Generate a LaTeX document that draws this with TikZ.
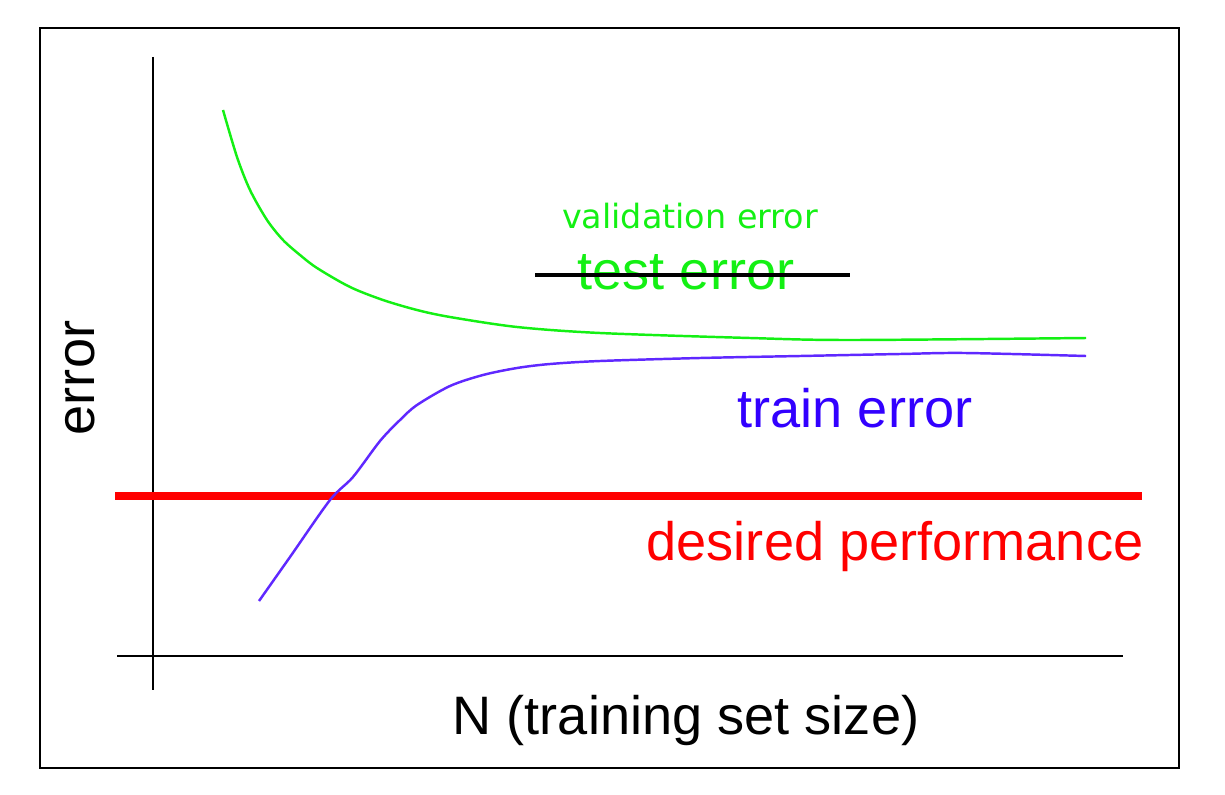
\documentclass[tikz,border=0pt]{standalone}
\usepackage{fontspec}
\setmainfont{Liberation Sans}
\newfontfamily\valfont{DejaVu Sans}
\definecolor{valgreen}{RGB}{20,240,20}
\definecolor{trainblue}{RGB}{50,0,255}
\definecolor{curveblue}{RGB}{95,40,255}
\definecolor{goalred}{RGB}{255,0,0}
\tikzset{
    axis/.style={line width=0.5pt,draw=black},
    lbl/.style={inner sep=0pt,font=\fontsize{15.4}{18}\selectfont}
}
\begin{document}
\begin{tikzpicture}[x=0.01cm,y=-0.01cm]
    \useasboundingbox (0,0) rectangle (1225,794);
    \draw[line width=0.5pt] (40,28) rectangle (1179,768);

    \coordinate (ytop) at (153,57);
    \coordinate (ybot) at (153,690);
    \coordinate (xleft) at (117,656);
    \coordinate (xright) at (1123,656);
    \draw[axis] (ytop) -- (ybot);
    \draw[axis] (xleft) -- (xright);

    \coordinate (goall) at (115,496);
    \coordinate (goalr) at (1142,496);
    \draw[goalred,line width=2pt] (goall) -- (goalr);

    % validation curve
    \draw[valgreen,line width=0.7pt] plot[smooth,tension=0.5] coordinates {
        (223,110) (237,157) (250,190) (267,220) (283,240) (300,255)
        (317,268) (350,287) (383,300) (417,310) (450,317) (517,327)
        (600,333) (750,338) (850,340) (1086,338)};
    % train curve
    \draw[curveblue,line width=0.7pt] plot[smooth,tension=0.5] coordinates {
        (259,601) (290,557) (330,500) (353,477) (380,441)
        (400,420) (417,405) (450,386) (483,375) (517,368) (550,364)
        (600,361) (700,358) (800,356) (900,354) (965,353) (1086,356)};

    \node[inner sep=0pt,text=valgreen,font=\valfont\fontsize{9.5}{11}\selectfont] (lval) at (690,216) {validation error};
    \node[lbl,text=valgreen] (ltest) at (686,272) {test error};
    \coordinate (strikel) at (535,275);
    \coordinate (striker) at (850,275);
    \draw[line width=0.9pt] (strikel) -- (striker);
    \node[lbl,text=trainblue] (ltrain) at (855,408) {train error};
    \node[lbl,text=goalred] (lgoal) at (895,546) {desired performance};
    \node[lbl,rotate=90] (lerr) at (80,378) {error};
    \node[lbl] (lsize) at (686,720) {N (training set size)};
\end{tikzpicture}
\end{document}
